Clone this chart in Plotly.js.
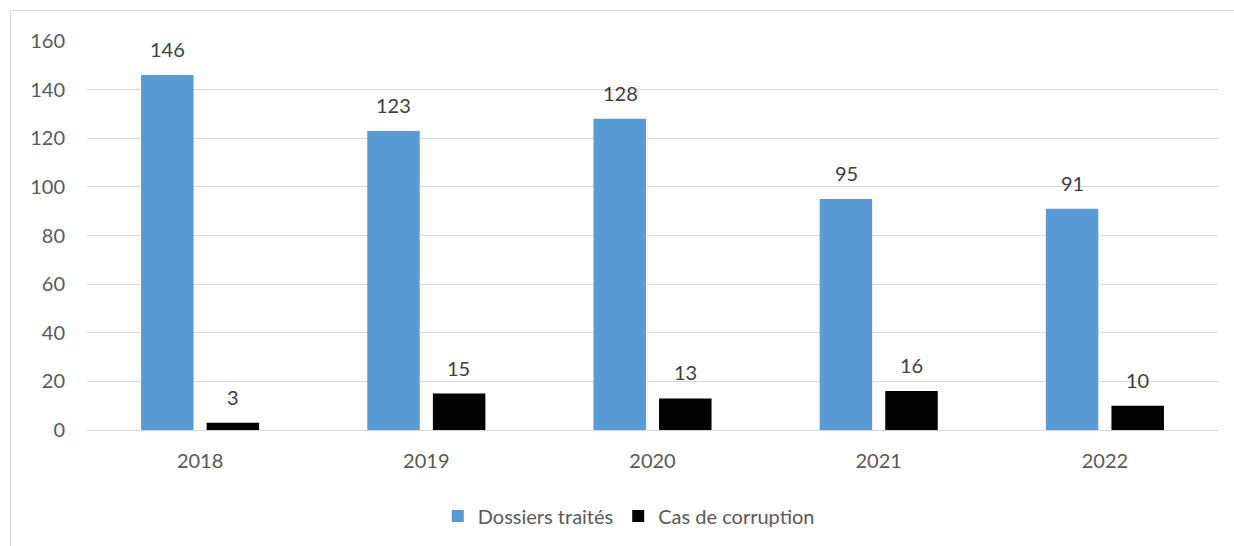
<!DOCTYPE html>
<html>
<head>
<meta charset="utf-8">
<script src="https://cdn.plot.ly/plotly-3.0.1.min.js"></script>
<style>
html,body{margin:0;padding:0;overflow:hidden;background:#fff;width:1234px;height:546px;}
#frame{position:absolute;left:10px;top:10px;width:1400px;height:700px;border:1px solid #d9d9d9;}
#chart{position:absolute;left:0;top:0;width:1234px;height:546px;}
</style>
</head>
<body>
<div id="frame"></div>
<div id="chart"></div>
<script>
const years = ["2018", "2019", "2020", "2021", "2022"];
const dossiers = [146, 123, 128, 95, 91];
const corruption = [3, 15, 13, 16, 10];
const seriesNames = ["Dossiers traités", "Cas de corruption"];

const font = {family: "Lato, 'Open Sans', sans-serif", size: 20, color: "#595959"};

const traces = [
  {type: "bar", name: seriesNames[0], x: years, y: dossiers, marker: {color: "#5B9BD5"}},
  {type: "bar", name: seriesNames[1], x: years, y: corruption, marker: {color: "#000000"}}
];

const annotations = [];
[dossiers, corruption].forEach((vals, si) => {
  vals.forEach((v, i) => {
    annotations.push({
      x: i, y: v, xref: "x", yref: "y", text: String(v), showarrow: false,
      xanchor: "center", yanchor: "bottom", yshift: 12,
      xshift: si === 0 ? -32.5 : 32.5,
      font: {family: font.family, size: 20, color: "#404040"}
    });
  });
});

const layout = {
  width: 1234, height: 546,
  margin: {l: 87, r: 16, t: 41, b: 115},
  paper_bgcolor: "rgba(0,0,0,0)", plot_bgcolor: "rgba(0,0,0,0)",
  font: font,
  barmode: "group", bargap: 0.42, bargroupgap: 0.2,
  xaxis: {type: "category", range: [-0.5, 4.5], autorange: false, showgrid: false, showline: false,
          ticks: "", ticklabelstandoff: 17, tickfont: font},
  yaxis: {range: [0, 160], autorange: false, dtick: 20, showgrid: true, gridcolor: "#d9d9d9", gridwidth: 1,
          zeroline: true, zerolinecolor: "#d9d9d9", zerolinewidth: 1, showline: false,
          ticks: "", ticklabelstandoff: 21, tickfont: font},
  showlegend: true,
  legend: {orientation: "h", x: 0.479, xanchor: "center", y: -0.218, yanchor: "middle",
           font: {family: font.family, size: 20, color: "#595959"}, itemwidth: 30, traceorder: "normal"},
  annotations: annotations
};

Plotly.newPlot("chart", traces, layout, {displayModeBar: false, staticPlot: true});
</script>
</body>
</html>
